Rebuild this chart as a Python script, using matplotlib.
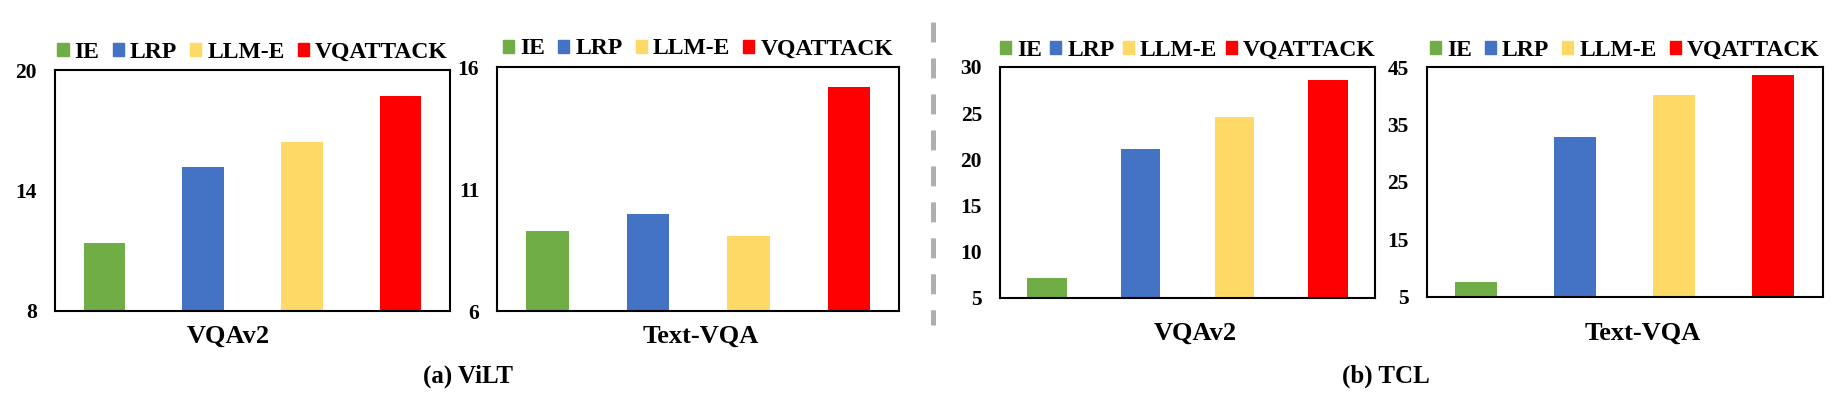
import matplotlib
matplotlib.use("Agg")
import matplotlib.pyplot as plt
from matplotlib.lines import Line2D

plt.rcParams['font.family'] = ['Liberation Serif', 'DejaVu Serif']
plt.rcParams['font.weight'] = 'bold'
plt.rcParams['lines.scale_dashes'] = False

# ---- data ----
methods = ["IE", "LRP", "LLM-E", "VQATTACK"]
colors = ["#70AD47", "#4472C4", "#FFD966", "#FF0000"]

vilt_vqav2 = [11.36, 15.19, 16.41, 18.70]
vilt_textvqa = [9.28, 9.98, 9.09, 15.20]
tcl_vqav2 = [7.10, 21.08, 24.58, 28.59]
tcl_textvqa = [7.50, 32.85, 40.17, 43.60]

datasets = ["VQAv2", "Text-VQA", "VQAv2", "Text-VQA"]
yticks_list = [[8, 14, 20], [6, 11, 16], [5, 10, 15, 20, 25, 30], [5, 15, 25, 35, 45]]
captions = ["(a) ViLT", "(b) TCL"]

W, H = 1840, 397
fig = plt.figure(figsize=(W / 100, H / 100), dpi=100)

# axes boxes in pixels: left, right, top, bottom
boxes = [(55, 450, 70.3, 310.7),
         (497.3, 899.3, 67.3, 311.3),
         (1000, 1375, 67, 297.7),
         (1426.7, 1822.7, 67.3, 296.7)]
xlabel_pos = [(228, 343), (701, 343), (1195, 340), (1643, 340)]
legend_y = [52, 49, 50, 50]
legend_colsp = [0.55, 0.55, 0.35, 0.55]
caption_pos = [(468, 383), (1386, 383)]

series = [vilt_vqav2, vilt_textvqa, tcl_vqav2, tcl_textvqa]

for i, (vals, box, yt, dname) in enumerate(zip(series, boxes, yticks_list, datasets)):
    l, r, t, b = box
    ax = fig.add_axes([l / W, 1 - b / H, (r - l) / W, (b - t) / H])
    x = list(range(len(methods)))
    ax.bar(x, vals, width=0.42, color=colors, zorder=2)
    ax.set_xlim(-0.5, 3.5)
    ax.set_ylim(yt[0], yt[-1])
    ax.set_yticks(yt)
    ax.set_yticklabels([str(v) for v in yt], fontsize=15.5, fontweight='bold')
    ax.set_xticks([])
    ax.tick_params(axis='y', length=0, pad=13)
    for s in ax.spines.values():
        s.set_linewidth(1.5)
        s.set_color('black')
    handles = [plt.Rectangle((0, 0), 1, 1, color=c) for c in colors]
    cx = (l + r) / 2
    ax.legend(handles, methods, loc='center', ncol=4, frameon=False,
              bbox_to_anchor=(cx / W, 1 - legend_y[i] / H),
              bbox_transform=fig.transFigure,
              prop={'size': 17, 'weight': 'bold'},
              handlelength=0.47, handleheight=0.47, handletextpad=0.26,
              columnspacing=legend_colsp[i], borderpad=0, borderaxespad=0)
    xp, yp = xlabel_pos[i]
    fig.text(xp / W, 1 - yp / H, dname, ha='center', va='baseline',
             fontsize=19, fontweight='bold')

for (xp, yp), cap in zip(caption_pos, captions):
    fig.text(xp / W, 1 - yp / H, cap, ha='center', va='baseline',
             fontsize=18, fontweight='bold')

# dashed separator
sep = Line2D([933.3 / W, 933.3 / W], [1 - 22 / H, 1 - 325 / H],
             transform=fig.transFigure, color='#b3aeae', linewidth=3.6,
             dashes=(14.4, 11.5), solid_capstyle='butt', dash_capstyle='butt')
fig.add_artist(sep)

fig.savefig("out.png", dpi=100)
